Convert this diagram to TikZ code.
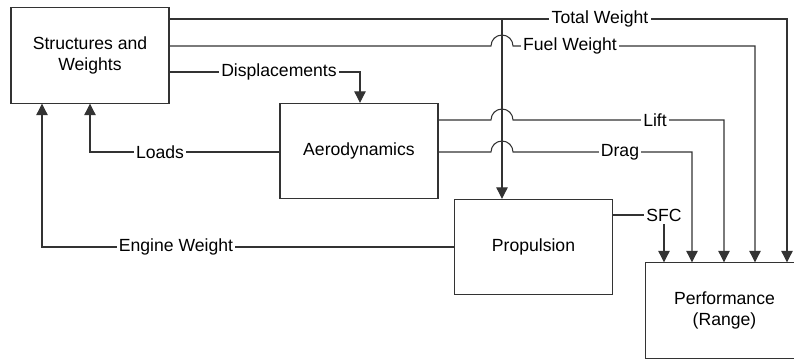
\documentclass[tikz,border=0pt]{standalone}
\usepackage{fontspec}
\setmainfont{Liberation Sans}
\usetikzlibrary{positioning,calc,arrows.meta}
\tikzstyle{block} = [rectangle, draw=black!80, minimum width=118.5pt, minimum height=71.5pt, align=center, font=\fontsize{13.2}{16}\selectfont]
\tikzstyle{arrow} = [draw=black!80, -{Triangle[width=8.5pt,length=8.5pt]}]
\tikzstyle{wire} = [draw=black!80]
\tikzstyle{lbl} = [fill=white, inner sep=1.8pt, font=\fontsize{13.2}{16}\selectfont]

\begin{document}
\begin{tikzpicture}[x=0.75pt,y=-0.75pt,line width=0.8pt]
	\clip (0,0) rectangle (794,360);
	\node[block] (sw) at (90,55.5) {Structures and\\ Weights};
	\node[block] (aero) at (359,151) {Aerodynamics};
	\node[block] (prop) at (533.5,247) {Propulsion};
	\node[block] (perf) at (724.5,310.5) {Performance\\ (Range)};
	% corners of the connectors
	\coordinate (tw) at (787,19);
	\coordinate (fw) at (755,46);
	\coordinate (lf) at (724,120);
	\coordinate (dg) at (692,152);
	\coordinate (sf) at (664,215);
	\coordinate (ds) at (360,72);
	\coordinate (ld) at (90,152);
	\coordinate (ew) at (42,247);
	\coordinate (br) at (502,19);
	\draw[arrow] (sw.east |- tw)--(tw)--(tw |- perf.north);
	\draw[arrow] (br)--(br |- prop.north);
	% lines hopping over the branch to propulsion
	\draw[arrow] (sw.east |- fw)--($(br |- fw)+(-11,0)$) arc[start angle=180,end angle=360,radius=11]--(fw)--(fw |- perf.north);
	\draw[arrow] (aero.east |- lf)--($(br |- lf)+(-11,0)$) arc[start angle=180,end angle=360,radius=11]--(lf)--(lf |- perf.north);
	\draw[arrow] (aero.east |- dg)--($(br |- dg)+(-11,0)$) arc[start angle=180,end angle=360,radius=11]--(dg)--(dg |- perf.north);
	\draw[arrow] (prop.east |- sf)--(sf)--(sf |- perf.north);
	\draw[arrow] (sw.east |- ds)--(ds)--(ds |- aero.north);
	\draw[arrow] (aero.west |- ld)--(ld)--(ld |- sw.south);
	\draw[arrow] (prop.west |- ew)--(ew)--(ew |- sw.south);
	% labels on the lines
	\node[lbl] (twl) at (600,19) {Total Weight};
	\node[lbl] (fwl) at (570,46) {Fuel Weight};
	\node[lbl] (lfl) at (655,120) {Lift};
	\node[lbl] (dgl) at (620,152) {Drag};
	\node[lbl] (sfl) at (sf) {SFC};
	\node[lbl] (dsl) at (279,72) {Displacements};
	\node[lbl] (ldl) at (160,152) {Loads};
	\node[lbl] (ewl) at (176,247) {Engine Weight};
\end{tikzpicture}
\end{document}
